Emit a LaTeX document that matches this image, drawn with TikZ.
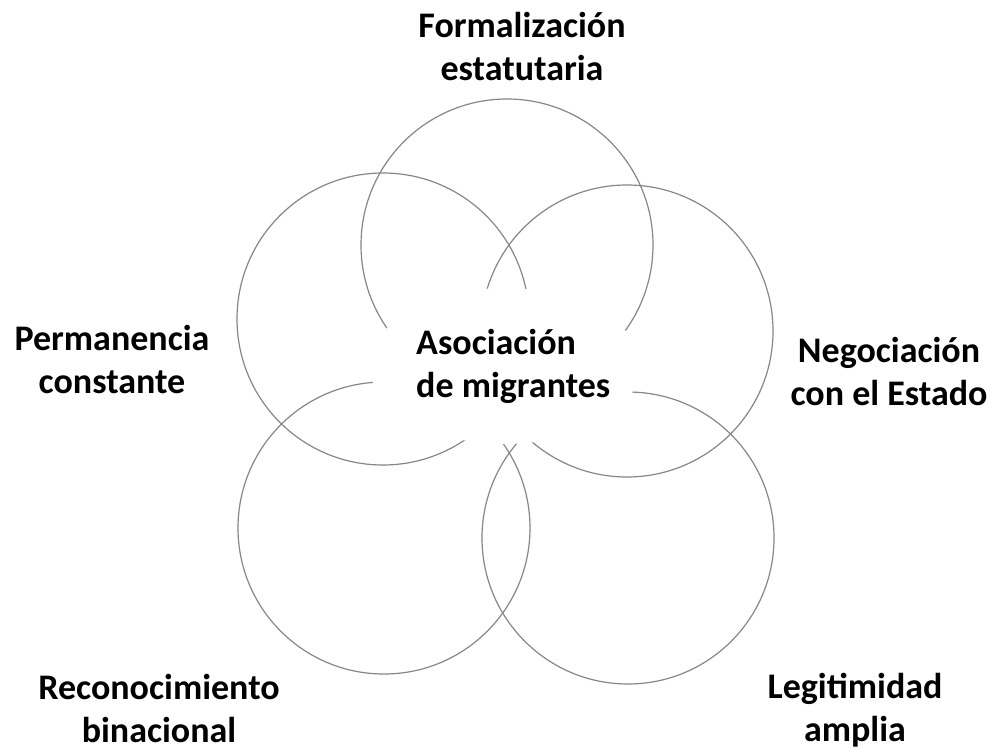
\documentclass[tikz,border=0pt]{standalone}
\usepackage{fontspec}
\setmainfont{Carlito}
\usetikzlibrary{shapes.geometric}
\definecolor{ringgray}{RGB}{135,135,135}
\begin{document}
\begin{tikzpicture}[x=1pt,y=-1pt,
  ring/.style={circle, draw=ringgray, line width=1.2pt, minimum size=292pt, inner sep=0pt},
  lbl/.style={font=\bfseries\fontsize{36}{43}\selectfont, align=center, inner sep=0pt, anchor=base}]
\useasboundingbox[fill=white] (0,0) rectangle (1000,752);
% circles
\node[ring] (ctop) at (507,245) {};
\node[ring] (cul)  at (383,319) {};
\node[ring] (cur)  at (627,331) {};
\node[ring] (cll)  at (384,528) {};
\node[ring] (clr)  at (628,538) {};
% central white blob
\node[ellipse, fill=white, minimum width=270pt, minimum height=156pt, inner sep=0pt] (hub) at (505,366) {};
\node[lbl, align=left, anchor=base west] (asoc) at (416,397) {Asociación\\de migrantes};
% outer labels (anchor = baseline of the last line)
\node[lbl] (form) at (522,80) {Formalización\\estatutaria};
\node[lbl] (perm) at (112,393) {Permanencia\\constante};
\node[lbl] (nego) at (889,405) {Negociación\\con el Estado};
\node[lbl] (reco) at (159,742) {Reconocimiento\\binacional};
\node[lbl] (legi) at (855,741) {Legitimidad\\amplia};
\end{tikzpicture}
\end{document}
